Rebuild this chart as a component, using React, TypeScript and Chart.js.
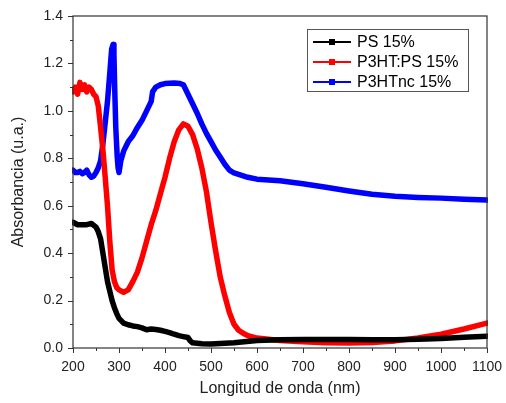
import React, { useEffect, useRef } from 'react';
import { Chart, registerables } from 'chart.js';

Chart.register(...registerables);

const psWl = [200, 210, 220, 230, 240, 250, 255, 260, 265, 270, 275, 280, 285, 290, 295, 300, 310, 320, 330, 340, 350, 360, 370, 380, 390, 400, 410, 420, 430, 440, 450, 455, 460, 480, 500, 520, 550, 600, 650, 700, 750, 800, 850, 900, 950, 1000, 1050, 1100];
const psAbs = [0.53, 0.52, 0.52, 0.52, 0.525, 0.51, 0.49, 0.46, 0.40, 0.34, 0.28, 0.24, 0.20, 0.17, 0.145, 0.125, 0.105, 0.098, 0.093, 0.09, 0.085, 0.077, 0.08, 0.078, 0.075, 0.07, 0.065, 0.058, 0.052, 0.048, 0.044, 0.03, 0.022, 0.018, 0.017, 0.019, 0.022, 0.032, 0.035, 0.036, 0.036, 0.036, 0.035, 0.035, 0.037, 0.04, 0.045, 0.05];

const p3htPsWl = [200, 205, 210, 215, 220, 225, 230, 235, 240, 245, 250, 255, 260, 265, 270, 275, 280, 285, 290, 295, 300, 310, 320, 330, 340, 350, 360, 370, 380, 390, 400, 410, 420, 430, 440, 450, 460, 470, 480, 490, 500, 510, 520, 530, 540, 550, 560, 570, 580, 600, 650, 700, 750, 800, 850, 900, 950, 1000, 1050, 1100];
const p3htPsAbs = [1.08, 1.10, 1.07, 1.12, 1.09, 1.11, 1.08, 1.10, 1.09, 1.07, 1.06, 1.02, 0.93, 0.835, 0.72, 0.60, 0.45, 0.33, 0.28, 0.255, 0.245, 0.235, 0.245, 0.28, 0.32, 0.38, 0.45, 0.52, 0.58, 0.65, 0.72, 0.80, 0.87, 0.92, 0.945, 0.935, 0.90, 0.84, 0.76, 0.66, 0.53, 0.41, 0.30, 0.22, 0.15, 0.10, 0.075, 0.062, 0.052, 0.042, 0.032, 0.026, 0.022, 0.021, 0.023, 0.03, 0.042, 0.058, 0.08, 0.105];

const p3htNcWl = [200, 205, 210, 215, 220, 225, 230, 235, 240, 245, 250, 255, 260, 265, 270, 275, 280, 284, 287, 289, 291, 293, 296, 298, 300, 304, 310, 320, 330, 340, 350, 360, 370, 373, 380, 390, 400, 420, 433, 440, 450, 460, 470, 480, 490, 500, 510, 520, 530, 540, 550, 560, 580, 600, 650, 700, 750, 800, 850, 900, 950, 1000, 1050, 1100];
const p3htNcAbs = [0.75, 0.74, 0.74, 0.745, 0.735, 0.74, 0.75, 0.73, 0.72, 0.725, 0.74, 0.76, 0.79, 0.86, 0.95, 1.04, 1.16, 1.26, 1.28, 1.24, 1.07, 0.93, 0.81, 0.76, 0.74, 0.79, 0.83, 0.87, 0.895, 0.93, 0.96, 1.00, 1.04, 1.08, 1.10, 1.11, 1.115, 1.117, 1.115, 1.11, 1.07, 1.03, 0.99, 0.945, 0.905, 0.87, 0.835, 0.805, 0.775, 0.75, 0.738, 0.732, 0.72, 0.712, 0.705, 0.693, 0.678, 0.662, 0.648, 0.64, 0.635, 0.632, 0.627, 0.624];

const seriesLabels = ['PS 15%', 'P3HT:PS 15%', 'P3HTnc 15%'];
const seriesColors = ['#000000', '#ff0000', '#0000ff'];

const toPts = (xs: number[], ys: number[]) => xs.map((x, i) => ({ x, y: ys[i] }));

const FONT = "'Liberation Sans', Arial, sans-serif";

const framePlugin = {
  id: 'frame',
  afterDraw(chart: any) {
    const { ctx, chartArea: a, scales } = chart;
    ctx.save();
    ctx.strokeStyle = '#333';
    ctx.lineWidth = 1.2;
    ctx.strokeRect(a.left, a.top, a.right - a.left, a.bottom - a.top);
    ctx.lineWidth = 1;
    ctx.beginPath();
    for (let v = 200; v <= 1100; v += 50) {
      const p = Math.round(scales.x.getPixelForValue(v)) + 0.5;
      const len = v % 100 === 0 ? 5 : 3;
      ctx.moveTo(p, a.bottom);
      ctx.lineTo(p, a.bottom + len);
    }
    for (let i = 0; i <= 14; i++) {
      const p = Math.round(scales.y.getPixelForValue(i / 10)) + 0.5;
      const len = i % 2 === 0 ? 5 : 3;
      ctx.moveTo(a.left, p);
      ctx.lineTo(a.left - len, p);
    }
    ctx.stroke();

    // legend
    const bx = 307, by = 29, bw = 161, bh = 62;
    ctx.fillStyle = '#fff';
    ctx.fillRect(bx, by, bw, bh);
    ctx.strokeStyle = '#555';
    ctx.lineWidth = 1;
    ctx.strokeRect(bx + 0.5, by + 0.5, bw, bh);
    ctx.font = `16px ${FONT}`;
    ctx.textBaseline = 'middle';
    ctx.textAlign = 'left';
    seriesLabels.forEach((lab, i) => {
      const y = 42 + i * 20;
      ctx.strokeStyle = seriesColors[i];
      ctx.lineWidth = 2;
      ctx.beginPath();
      ctx.moveTo(313, y);
      ctx.lineTo(351, y);
      ctx.stroke();
      ctx.fillStyle = seriesColors[i];
      ctx.fillRect(329, y - 3, 6, 6);
      ctx.fillStyle = '#000';
      ctx.fillText(lab, 357, y + 1);
    });
    ctx.restore();
  },
};

export default function App() {
  const ref = useRef<HTMLCanvasElement>(null);
  useEffect(() => {
    if (!ref.current) return;
    const sets = [
      [psWl, psAbs],
      [p3htPsWl, p3htPsAbs],
      [p3htNcWl, p3htNcAbs],
    ];
    const chart = new Chart(ref.current, {
      type: 'line',
      data: {
        datasets: sets.map(([xs, ys], i) => ({
          label: seriesLabels[i],
          data: toPts(xs as number[], ys as number[]),
          borderColor: seriesColors[i],
          backgroundColor: seriesColors[i],
          borderWidth: 5.5,
          pointRadius: 0,
          tension: 0,
          borderJoinStyle: 'round',
          borderCapStyle: 'round',
          fill: false,
          clip: 1,
        })),
      },
      options: {
        animation: false,
        responsive: true,
        maintainAspectRatio: false,
        layout: { padding: { left: 0, top: 16, right: 19, bottom: 0 } },
        plugins: { legend: { display: false }, tooltip: { enabled: false } },
        scales: {
          x: {
            type: 'linear',
            min: 200,
            max: 1100,
            grid: { display: false, drawTicks: false },
            border: { display: false },
            ticks: {
              stepSize: 100,
              autoSkip: false,
              maxRotation: 0,
              padding: 11,
              color: '#222',
              font: { family: FONT, size: 14 },
              callback: (v: any) => String(v),
            },
            title: {
              display: true,
              text: 'Longitud de onda (nm)',
              color: '#222',
              font: { family: FONT, size: 16 },
              padding: { top: 0, bottom: 5 },
            },
            afterFit: (s: any) => { s.height = 55; s.paddingLeft = 0; s.paddingRight = 0; },
          },
          y: {
            type: 'linear',
            min: 0,
            max: 1.4,
            grid: { display: false, drawTicks: false },
            border: { display: false },
            ticks: {
              stepSize: 0.2,
              autoSkip: false,
              padding: 10,
              color: '#222',
              font: { family: FONT, size: 14 },
              callback: (v: any) => Number(v).toFixed(1),
            },
            title: {
              display: true,
              text: 'Absorbancia (u.a.)',
              color: '#222',
              font: { family: FONT, size: 16 },
              padding: { top: 9, bottom: 0 },
            },
            afterFit: (s: any) => { s.width = 73; s.paddingTop = 0; s.paddingBottom = 0; },
          },
        },
      },
      plugins: [framePlugin],
    } as any);
    return () => chart.destroy();
  }, []);
  return (
    <div style={{ position: 'absolute', left: 0, top: 0, width: 506, height: 403, background: '#fff' }}>
      <canvas ref={ref} />
    </div>
  );
}
